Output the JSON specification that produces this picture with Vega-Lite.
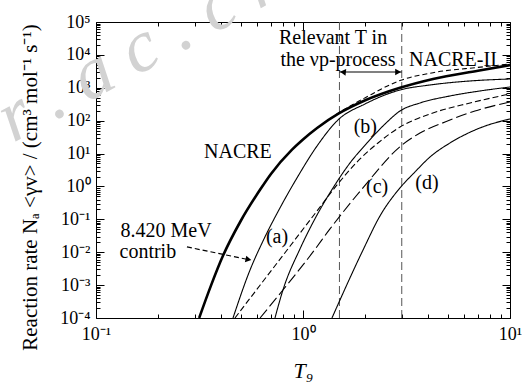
{
  "$schema": "https://vega.github.io/schema/vega-lite/v6.json",
  "width": 414,
  "height": 296,
  "autosize": {"type": "none"},
  "padding": {"left": 96, "top": 22, "right": 15, "bottom": 67},
  "config": {
    "font": "Liberation Serif",
    "view": {"stroke": "black", "strokeWidth": 1},
    "axis": {"grid": false, "domain": false, "zindex": 1, "tickColor": "black", "labelColor": "black", "titleColor": "black", "labelFont": "Liberation Serif", "titleFont": "Liberation Serif", "titleFontWeight": "normal", "labelOverlap": false, "labelFlush": false, "labelBound": false}
  },
  "datasets": {
    "curves": [
      {"s": "NACRE-II", "t": 0.885, "r": 13.2},
      {"s": "NACRE-II", "t": 1.0, "r": 26.9},
      {"s": "NACRE-II", "t": 1.17, "r": 60},
      {"s": "NACRE-II", "t": 1.49, "r": 174},
      {"s": "NACRE-II", "t": 2.0, "r": 500},
      {"s": "NACRE-II", "t": 2.94, "r": 1660},
      {"s": "NACRE-II", "t": 4.25, "r": 2880},
      {"s": "NACRE-II", "t": 7.0, "r": 4170},
      {"s": "NACRE-II", "t": 10, "r": 5250},
      {"s": "NACRE", "t": 0.315, "r": 0.0001},
      {"s": "NACRE", "t": 0.36, "r": 0.001},
      {"s": "NACRE", "t": 0.411, "r": 0.0079},
      {"s": "NACRE", "t": 0.5, "r": 0.089},
      {"s": "NACRE", "t": 0.62, "r": 0.79},
      {"s": "NACRE", "t": 0.7, "r": 2.4},
      {"s": "NACRE", "t": 0.885, "r": 13.2},
      {"s": "NACRE", "t": 1.0, "r": 26.9},
      {"s": "NACRE", "t": 1.17, "r": 60},
      {"s": "NACRE", "t": 1.49, "r": 166},
      {"s": "NACRE", "t": 2.0, "r": 417},
      {"s": "NACRE", "t": 2.94, "r": 1000},
      {"s": "NACRE", "t": 4.25, "r": 1860},
      {"s": "NACRE", "t": 7.0, "r": 3310},
      {"s": "NACRE", "t": 10, "r": 4900},
      {"s": "a", "t": 0.459, "r": 0.0001},
      {"s": "a", "t": 0.555, "r": 0.0029},
      {"s": "a", "t": 0.641, "r": 0.022},
      {"s": "a", "t": 0.774, "r": 0.222},
      {"s": "a", "t": 0.935, "r": 1.81},
      {"s": "a", "t": 1.169, "r": 17},
      {"s": "a", "t": 1.476, "r": 105},
      {"s": "a", "t": 1.993, "r": 322},
      {"s": "a", "t": 2.942, "r": 857},
      {"s": "a", "t": 4.108, "r": 1216},
      {"s": "a", "t": 6.41, "r": 1611},
      {"s": "a", "t": 10, "r": 1850},
      {"s": "dashed", "t": 0.469, "r": 0.0001},
      {"s": "dashed", "t": 0.62, "r": 0.00099},
      {"s": "dashed", "t": 0.865, "r": 0.0152},
      {"s": "dashed", "t": 1.169, "r": 0.18},
      {"s": "dashed", "t": 1.46, "r": 1.11},
      {"s": "dashed", "t": 1.886, "r": 6.85},
      {"s": "dashed", "t": 2.303, "r": 21},
      {"s": "dashed", "t": 2.942, "r": 64},
      {"s": "dashed", "t": 4.108, "r": 160},
      {"s": "dashed", "t": 6.41, "r": 345},
      {"s": "dashed", "t": 10, "r": 649},
      {"s": "b", "t": 0.732, "r": 0.0001},
      {"s": "b", "t": 0.8, "r": 0.00071},
      {"s": "b", "t": 0.967, "r": 0.0126},
      {"s": "b", "t": 1.169, "r": 0.136},
      {"s": "b", "t": 1.396, "r": 0.9},
      {"s": "b", "t": 1.687, "r": 5.18},
      {"s": "b", "t": 2.038, "r": 21},
      {"s": "b", "t": 2.489, "r": 79},
      {"s": "b", "t": 2.942, "r": 197},
      {"s": "b", "t": 3.674, "r": 345},
      {"s": "b", "t": 5.13, "r": 564},
      {"s": "b", "t": 7.16, "r": 800},
      {"s": "b", "t": 10, "r": 1057},
      {"s": "c", "t": 0.62, "r": 0.0001},
      {"s": "c", "t": 0.8, "r": 0.00071},
      {"s": "c", "t": 1.118, "r": 0.0102},
      {"s": "c", "t": 1.35, "r": 0.051},
      {"s": "c", "t": 1.928, "r": 0.84},
      {"s": "c", "t": 3.009, "r": 18.2},
      {"s": "c", "t": 3.674, "r": 42},
      {"s": "c", "t": 4.853, "r": 91},
      {"s": "c", "t": 6.77, "r": 197},
      {"s": "c", "t": 10, "r": 370},
      {"s": "d", "t": 1.38, "r": 0.0001},
      {"s": "d", "t": 1.95, "r": 0.0117},
      {"s": "d", "t": 2.355, "r": 0.127},
      {"s": "d", "t": 2.94, "r": 0.9},
      {"s": "d", "t": 3.475, "r": 2.76},
      {"s": "d", "t": 4.11, "r": 7.9},
      {"s": "d", "t": 5.13, "r": 21},
      {"s": "d", "t": 7.16, "r": 60},
      {"s": "d", "t": 10, "r": 113}
    ],
    "vlines": [{"t": 1.5}, {"t": 3.0}],
    "arrows": [
      {"a": "contrib", "t": 0.275, "r": 0.0145},
      {"a": "contrib", "t": 0.55, "r": 0.0059},
      {"a": "range", "t": 1.5, "r": 3020},
      {"a": "range", "t": 3.0, "r": 3020}
    ],
    "heads": [
      {"h": "contrib", "t": 0.545, "r": 0.006},
      {"h": "left", "t": 1.56, "r": 3020},
      {"h": "right", "t": 2.88, "r": 3020}
    ],
    "labels": [
      {"text": "NACRE", "t": 0.485, "r": 11.2},
      {"text": "NACRE-II", "t": 5.3, "r": 7000},
      {"text": "Relevant T in", "t": 1.397, "r": 32650},
      {"text": "the νp-process", "t": 1.476, "r": 7000},
      {"text": "(a)", "t": 0.749, "r": 0.029},
      {"text": "(b)", "t": 2.0, "r": 64},
      {"text": "(c)", "t": 2.28, "r": 0.97},
      {"text": "(d)", "t": 3.97, "r": 1.28},
      {"text": "8.420 MeV", "t": 0.218, "r": 0.0444},
      {"text": "contrib", "t": 0.178, "r": 0.0102}
    ],
    "mark": [
      {"text": "r . a c . c n", "t": 0.0397, "r": 21}
    ]
  },
  "layer": [
    {
      "data": {"name": "mark"},
      "mark": {"type": "text", "font": "Liberation Serif", "fontStyle": "italic", "fontSize": 74, "color": "#d2d2d2", "align": "left", "baseline": "alphabetic", "angle": -28.5},
      "encoding": {
        "x": {"field": "t", "type": "quantitative", "scale": {"type": "log", "domain": [0.1, 10], "nice": false}, "axis": null},
        "y": {"field": "r", "type": "quantitative", "scale": {"type": "log", "domain": [0.0001, 100000], "nice": false}, "axis": null},
        "text": {"field": "text"}
      }
    },
    {
      "data": {"name": "vlines"},
      "mark": {"type": "rule", "color": "#555555", "strokeWidth": 1, "strokeDash": [8, 4]},
      "encoding": {
        "x": {"field": "t", "type": "quantitative", "axis": null}
      }
    },
    {
      "data": {"name": "curves"},
      "transform": [{"filter": "datum.s != 'NACRE'"}],
      "mark": {"type": "line", "clip": true, "color": "black", "strokeWidth": 1.1, "interpolate": "monotone"},
      "encoding": {
        "x": {"field": "t", "type": "quantitative",
          "axis": {"orient": "bottom", "title": "T₉", "titleFontSize": 22, "titleFontStyle": "italic", "titleY": 42, "titleBaseline": "top",
            "values": [0.1,0.2,0.3,0.4,0.5,0.6,0.7,0.8,0.9,1,2,3,4,5,6,7,8,9,10],
            "tickSize": {"condition": {"test": "abs(log(datum.value)/LN10 - round(log(datum.value)/LN10)) < 0.01", "value": -8}, "value": -4},
            "labelFontSize": 18, "labelPadding": 15,
            "labelExpr": "abs(log(datum.value)/LN10 - round(log(datum.value)/LN10)) < 0.01 ? ['10⁻¹','10⁰','10¹'][round(log(datum.value)/LN10)+1] : ''"}},
        "y": {"field": "r", "type": "quantitative",
          "axis": {"orient": "left", "title": "Reaction rate Nₐ <γv> / (cm³ mol⁻¹ s⁻¹)", "titleFontSize": 21, "titleAngle": -90, "titleX": -60, "titleY": 165, "titleBaseline": "alphabetic", "titleAlign": "center",
            "values": [0.0001,0.0002,0.0003,0.0004,0.0005,0.0006,0.0007,0.0008,0.0009,0.001,0.002,0.003,0.004,0.005,0.006,0.007,0.008,0.009,0.01,0.02,0.03,0.04,0.05,0.06,0.07,0.08,0.09,0.1,0.2,0.3,0.4,0.5,0.6,0.7,0.8,0.9,1,2,3,4,5,6,7,8,9,10,20,30,40,50,60,70,80,90,100,200,300,400,500,600,700,800,900,1000,2000,3000,4000,5000,6000,7000,8000,9000,10000,20000,30000,40000,50000,60000,70000,80000,90000,100000],
            "tickSize": {"condition": {"test": "abs(log(datum.value)/LN10 - round(log(datum.value)/LN10)) < 0.01", "value": -8}, "value": -4},
            "labelFontSize": 18, "labelPadding": 14,
            "labelExpr": "abs(log(datum.value)/LN10 - round(log(datum.value)/LN10)) < 0.01 ? ['10⁻⁴','10⁻³','10⁻²','10⁻¹','10⁰','10¹','10²','10³','10⁴','10⁵'][round(log(datum.value)/LN10)+4] : ''"}},
        "detail": {"field": "s"},
        "strokeDash": {"field": "s", "type": "nominal", "legend": null,
          "scale": {"domain": ["NACRE-II", "a", "dashed", "b", "c", "d"], "range": [[5, 3], [1, 0], [6, 3], [1, 0], [11, 4], [1, 0]]}}
      }
    },
    {
      "data": {"name": "curves"},
      "transform": [{"filter": "datum.s == 'NACRE'"}],
      "mark": {"type": "line", "clip": true, "color": "black", "strokeWidth": 2.6, "interpolate": "monotone"},
      "encoding": {
        "x": {"field": "t", "type": "quantitative", "axis": null},
        "y": {"field": "r", "type": "quantitative", "axis": null}
      }
    },
    {
      "data": {"name": "arrows"},
      "mark": {"type": "line", "color": "black", "strokeWidth": 1.2},
      "encoding": {
        "x": {"field": "t", "type": "quantitative", "axis": null},
        "y": {"field": "r", "type": "quantitative", "axis": null},
        "detail": {"field": "a"},
        "strokeDash": {"field": "a", "type": "nominal", "legend": null, "scale": {"domain": ["contrib", "range"], "range": [[5, 3], [1, 0]]}}
      }
    },
    {
      "data": {"name": "heads"},
      "mark": {"type": "point", "filled": true, "color": "black", "opacity": 1, "size": 45},
      "encoding": {
        "x": {"field": "t", "type": "quantitative", "axis": null},
        "y": {"field": "r", "type": "quantitative", "axis": null},
        "shape": {"field": "h", "type": "nominal", "legend": null, "scale": {"domain": ["contrib", "left", "right"], "range": ["triangle-right", "triangle-left", "triangle-right"]}},
        "angle": {"field": "h", "type": "nominal", "legend": null, "scale": {"domain": ["contrib", "left", "right"], "range": [12, 0, 0]}}
      }
    },
    {
      "data": {"name": "labels"},
      "mark": {"type": "text", "font": "Liberation Serif", "fontSize": 20, "color": "black", "align": "center", "baseline": "middle"},
      "encoding": {
        "x": {"field": "t", "type": "quantitative",
          "axis": {"orient": "top", "title": null, "labels": false,
            "values": [0.1,0.2,0.3,0.4,0.5,0.6,0.7,0.8,0.9,1,2,3,4,5,6,7,8,9,10],
            "tickSize": {"condition": {"test": "abs(log(datum.value)/LN10 - round(log(datum.value)/LN10)) < 0.01", "value": -8}, "value": -4}}},
        "y": {"field": "r", "type": "quantitative",
          "axis": {"orient": "right", "title": null, "labels": false,
            "values": [0.0001,0.0002,0.0003,0.0004,0.0005,0.0006,0.0007,0.0008,0.0009,0.001,0.002,0.003,0.004,0.005,0.006,0.007,0.008,0.009,0.01,0.02,0.03,0.04,0.05,0.06,0.07,0.08,0.09,0.1,0.2,0.3,0.4,0.5,0.6,0.7,0.8,0.9,1,2,3,4,5,6,7,8,9,10,20,30,40,50,60,70,80,90,100,200,300,400,500,600,700,800,900,1000,2000,3000,4000,5000,6000,7000,8000,9000,10000,20000,30000,40000,50000,60000,70000,80000,90000,100000],
            "tickSize": {"condition": {"test": "abs(log(datum.value)/LN10 - round(log(datum.value)/LN10)) < 0.01", "value": -8}, "value": -4}}},
        "text": {"field": "text"}
      }
    }
  ],
  "resolve": {"axis": {"x": "independent", "y": "independent"}}
}
